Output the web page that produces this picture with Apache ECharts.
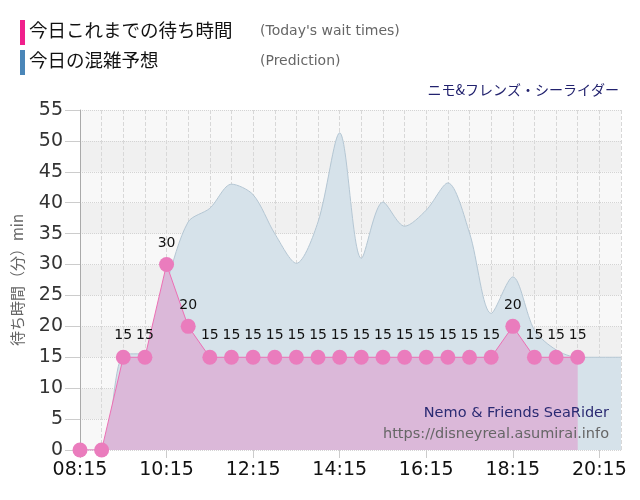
<html>
<head>
    <meta charset="utf-8">
    <script src="https://cdn.jsdelivr.net/npm/echarts@6/dist/echarts.min.js"></script>
    <style>
        body { margin: 0; background: #fff; }
        #main { width: 640px; height: 500px; }
    </style>
</head>
<body>
    <div id="main"></div>
    <script>
        // 時刻 (30分ごと)
        var times = ['08:15', '08:45', '09:15', '09:45', '10:15', '10:45', '11:15', '11:45',
            '12:15', '12:45', '13:15', '13:45', '14:15', '14:45', '15:15', '15:45',
            '16:15', '16:45', '17:15', '17:45', '18:15', '18:45', '19:15', '19:45',
            '20:15', '20:45'];
        // 今日これまでの待ち時間
        var actual = [0, 0, 15, 15, 30, 20, 15, 15, 15, 15, 15, 15, 15, 15, 15, 15,
            15, 15, 15, 15, 20, 15, 15, 15, null, null];
        // 今日の混雑予想
        var prediction = [0, 0, 15.4, 15.7, 27, 36.9, 39.1, 43, 41.3, 35, 30.2, 36.9,
            51.3, 31, 40.1, 36.2, 38.8, 43.2, 35.1, 22.1, 28, 19.4, 16.2, 15, 15, 15];
        var yTicks = { min: 0, max: 55, interval: 5 };

        var numFont = 'DejaVu Sans, Verdana, sans-serif';
        var jpFont = '"Noto Sans CJK JP", sans-serif';

        var myChart = echarts.init(document.getElementById('main'));

        var option = {
            animation: false,
            grid: { left: 80, right: 19, top: 110, bottom: 50 },
            graphic: [
                { type: 'rect', left: 20, top: 20, shape: { width: 5, height: 25 }, style: { fill: '#f0208c' } },
                { type: 'text', left: 29, top: 21, style: { text: '今日これまでの待ち時間', font: '18.5px ' + jpFont, fill: '#111' } },
                { type: 'text', left: 260, top: 24, style: { text: "(Today's wait times)", font: '14px ' + numFont, fill: '#666' } },
                { type: 'rect', left: 20, top: 50, shape: { width: 5, height: 25 }, style: { fill: '#4a86b8' } },
                { type: 'text', left: 29, top: 51, style: { text: '今日の混雑予想', font: '18.5px ' + jpFont, fill: '#111' } },
                { type: 'text', left: 260, top: 54, style: { text: '(Prediction)', font: '14px ' + numFont, fill: '#666' } },
                { type: 'text', right: 21, top: 83, style: { text: 'ニモ&フレンズ・シーライダー', font: '14px ' + jpFont, fill: '#22226e' } },
                { type: 'text', right: 31, top: 406, z: 10, style: { text: 'Nemo & Friends SeaRider', font: '14.5px ' + numFont, fill: '#2a2a72' } },
                { type: 'text', right: 31, top: 427, z: 10, style: { text: 'https://disneyreal.asumirai.info', font: '14.5px ' + numFont, fill: '#666' } }
            ],
            xAxis: {
                type: 'category',
                data: times,
                boundaryGap: false,
                axisLine: { show: false },
                axisTick: { show: true, interval: 3, length: 8, lineStyle: { color: '#ccc' } },
                axisLabel: { interval: 3, color: '#111', fontSize: 19, fontFamily: numFont, margin: 11 },
                splitLine: { show: true, interval: 0, lineStyle: { color: '#d8d8d8', type: 'dashed' } }
            },
            yAxis: {
                type: 'value',
                min: yTicks.min,
                max: yTicks.max,
                interval: yTicks.interval,
                name: '待ち時間（分）min',
                nameLocation: 'middle',
                nameGap: 55,
                nameTextStyle: { color: '#666', fontSize: 15, fontFamily: jpFont },
                axisLine: { show: true, lineStyle: { color: '#aaa' } },
                axisTick: { show: true, length: 15, lineStyle: { color: '#ccc' } },
                axisLabel: { color: '#333', fontSize: 19, fontFamily: numFont, margin: 17 },
                splitLine: { show: true, lineStyle: { color: '#d4d4d4', type: 'dotted' } },
                splitArea: { show: true, areaStyle: { color: ['#f8f8f8', '#f0f0f0'] } }
            },
            series: [
                {
                    name: '今日の混雑予想',
                    type: 'line',
                    data: prediction,
                    smooth: 0.3,
                    symbol: 'none',
                    lineStyle: { color: '#b4c6d3', width: 1 },
                    areaStyle: { color: '#d6e2ea', opacity: 1 },
                    z: 1
                },
                {
                    name: '今日これまでの待ち時間',
                    type: 'line',
                    data: actual,
                    symbol: 'circle',
                    symbolSize: 15,
                    showSymbol: true,
                    showAllSymbol: true,
                    lineStyle: { color: '#ec6fb4', width: 1 },
                    itemStyle: { color: '#ea7cbd' },
                    areaStyle: { color: '#dbb8d9', opacity: 1 },
                    label: {
                        show: true,
                        position: 'top',
                        distance: 7,
                        color: '#111',
                        fontSize: 14,
                        fontFamily: numFont,
                        formatter: function (p) { return p.value ? p.value : ''; }
                    },
                    labelLayout: { hideOverlap: false },
                    z: 2
                }
            ]
        };
        myChart.setOption(option);
    </script>
</body>
</html>
